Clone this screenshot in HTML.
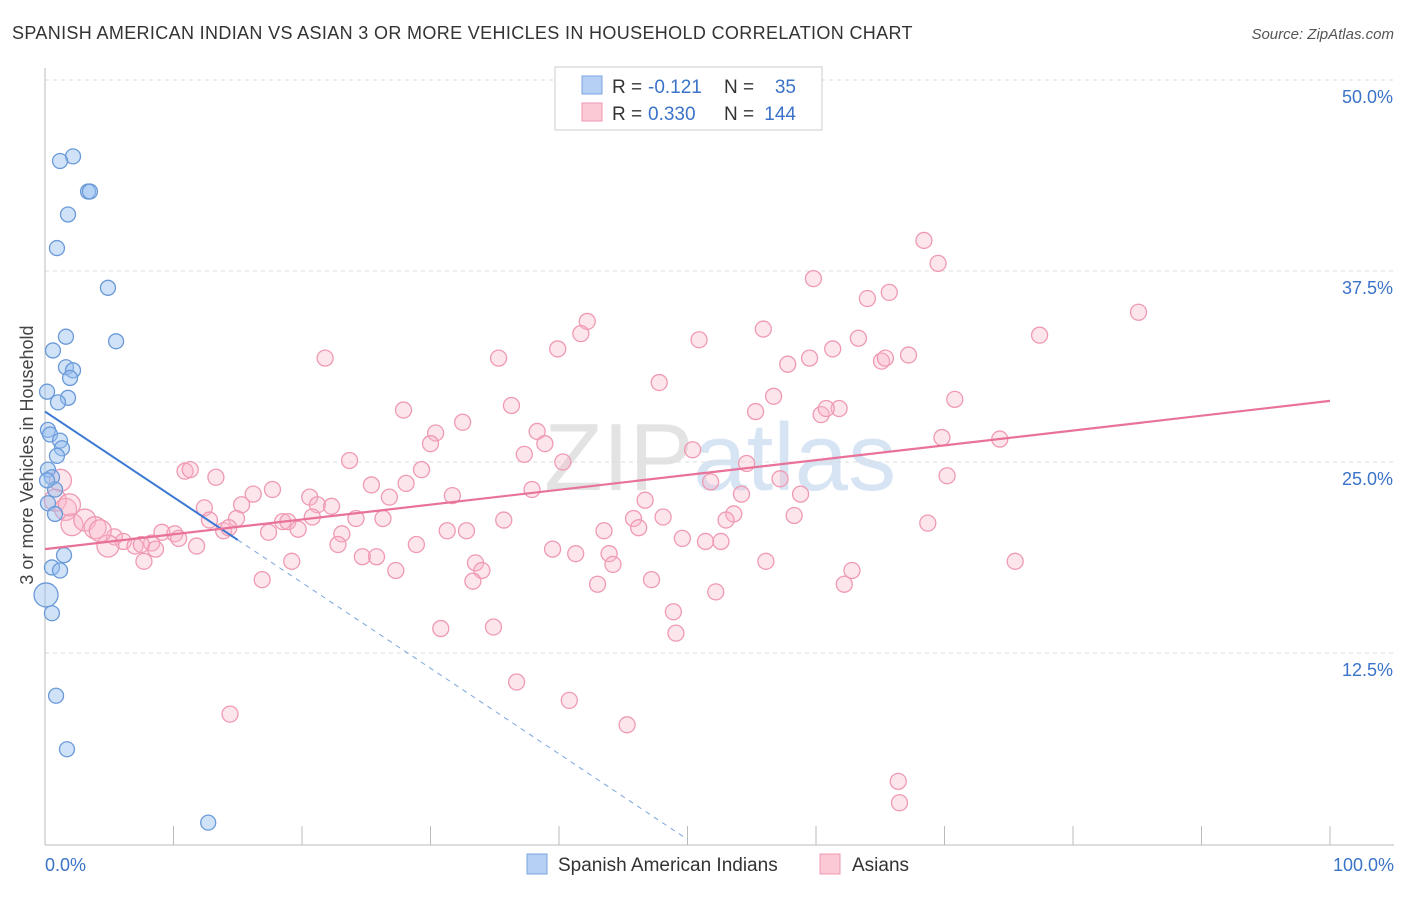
<!DOCTYPE html>
<html><head><meta charset="utf-8"><style>
body{margin:0;background:#fff;font-family:"Liberation Sans",sans-serif}
svg text{font-family:"Liberation Sans",sans-serif}
</style></head><body>
<svg id="chart" width="1406" height="892" viewBox="0 0 1406 892" xmlns="http://www.w3.org/2000/svg">
<text x="12" y="39" font-size="18" letter-spacing="0.35" fill="#333">SPANISH AMERICAN INDIAN VS ASIAN 3 OR MORE VEHICLES IN HOUSEHOLD CORRELATION CHART</text>
<text x="1394" y="39" font-size="15" fill="#555" text-anchor="end" font-style="italic">Source: ZipAtlas.com</text>
<text x="720" y="490" font-size="96" fill="#e6e6e6" text-anchor="middle" font-family="Liberation Serif"><tspan fill="#e3e3e3">ZIP</tspan><tspan fill="#d6e4f4" font-family="Liberation Sans">atlas</tspan></text>
<g id="grid"></g>
<g id="axes"></g>
<g id="marks"></g>
<text transform="translate(33,455) rotate(-90)" font-size="18" fill="#444" text-anchor="middle">3 or more Vehicles in Household</text>
<g>
<rect x="555" y="67" width="267" height="63" fill="#fff" stroke="#ccc"/>
<rect x="582" y="76" width="20" height="18" fill="#b5d0f3" stroke="#7aa4e0"/>
<rect x="582" y="103" width="20" height="18" fill="#fbc8d6" stroke="#ef9ab2"/>
<text x="612" y="93" font-size="19" fill="#333">R =</text>
<text x="648" y="93" font-size="19" fill="#3b73c8">-0.121</text>
<text x="724" y="93" font-size="19" fill="#333">N =</text>
<text x="796" y="93" font-size="19" fill="#3b73c8" text-anchor="end">35</text>
<text x="612" y="120" font-size="19" fill="#333">R =</text>
<text x="648" y="120" font-size="19" fill="#3b73c8">0.330</text>
<text x="724" y="120" font-size="19" fill="#333">N =</text>
<text x="796" y="120" font-size="19" fill="#3b73c8" text-anchor="end">144</text>
</g>
<g>
<rect x="527" y="854" width="20" height="20" fill="#b5d0f3" stroke="#7aa4e0"/>
<text x="558" y="871" font-size="19" fill="#333">Spanish American Indians</text>
<rect x="820" y="854" width="20" height="20" fill="#fbc8d6" stroke="#ef9ab2"/>
<text x="852" y="871" font-size="19" fill="#333">Asians</text>
</g>
</svg>
<script>
const yTicks=[12.5,25,37.5,50];
const yTickLabels=["12.5%","25.0%","37.5%","50.0%"];
const xEndLabels=["0.0%","100.0%"];
const blueX=[2.18,1.17,3.35,3.5,1.79,0.93,4.9,1.63,5.53,0.62,1.63,2.18,1.95,0.16,1.79,1.01,0.23,0.39,1.17,1.32,0.93,0.23,0.54,0.78,0.23,0.78,1.48,0.54,1.17,0.08,0.54,0.86,1.71,12.7,0.16];
const blueY=[45.0,44.7,42.7,42.7,41.2,39.0,36.4,33.2,32.9,32.3,31.2,31.0,30.5,29.6,29.2,28.9,27.1,26.8,26.4,25.9,25.4,24.5,24.0,23.2,22.3,21.6,18.9,18.1,17.9,16.3,15.1,9.7,6.2,1.4,23.8];
const pinkX=[68.4,69.5,59.8,64.0,65.7,85.1,42.2,41.7,55.9,77.4,50.9,63.3,39.9,61.3,21.8,35.3,67.2,65.1,65.4,57.8,59.5,47.8,56.7,70.8,36.3,27.9,55.3,60.4,61.8,60.8,32.5,30.4,30.0,38.3,38.9,69.8,74.3,50.4,37.3,40.3,23.7,54.6,29.3,25.4,28.1,57.2,70.2,10.9,11.3,13.3,31.7,37.9,51.8,54.2,58.8,17.7,20.6,26.8,15.3,16.2,12.4,21.2,22.3,46.7,53.6,53.0,58.3,48.1,45.8,24.2,26.3,68.7,12.8,14.9,18.5,20.8,18.9,35.7,43.5,46.2,31.3,32.8,13.9,14.3,23.1,17.4,19.7,49.6,51.4,52.6,5.4,6.1,9.1,10.1,10.4,7.0,4.9,8.3,11.8,8.6,7.5,28.9,39.5,41.3,43.9,24.7,25.8,44.2,33.5,22.8,34.0,19.2,27.3,56.1,62.8,75.5,7.7,16.9,33.3,43.0,47.2,62.2,52.2,48.9,30.8,34.9,49.1,36.7,40.8,45.3,14.4,66.4,66.5,1.2,0.8,1.6,2.1,3.1,3.9,4.3,1.9];
const pinkY=[39.5,38.0,37.0,35.7,36.1,34.8,34.2,33.4,33.7,33.3,33.0,33.1,32.4,32.4,31.8,31.8,32.0,31.6,31.8,31.4,31.8,30.2,29.3,29.1,28.7,28.4,28.3,28.1,28.5,28.5,27.6,26.9,26.2,27.0,26.2,26.6,26.5,25.8,25.5,25.0,25.1,24.9,24.5,23.5,23.6,23.9,24.1,24.4,24.5,24.0,22.8,23.2,23.7,22.9,22.9,23.2,22.7,22.7,22.2,22.9,22.0,22.2,22.1,22.5,21.6,21.2,21.5,21.4,21.3,21.3,21.3,21.0,21.2,21.3,21.1,21.4,21.1,21.2,20.5,20.7,20.5,20.5,20.5,20.7,20.3,20.4,20.6,20.0,19.8,19.8,20.1,19.8,20.4,20.3,20.0,19.5,19.5,19.7,19.5,19.3,19.6,19.6,19.3,19.0,19.0,18.8,18.8,18.3,18.4,19.6,17.9,18.5,17.9,18.5,17.9,18.5,18.5,17.3,17.2,17.0,17.3,17.0,16.5,15.2,14.1,14.2,13.8,10.6,9.4,7.8,8.5,4.1,2.7,23.8,22.5,21.9,20.9,21.2,20.7,20.5,22.2];
const blueTrend=[28.3,-0.56];   // intercept, slope
const pinkTrend=[19.3,0.097];

const NS="http://www.w3.org/2000/svg";
const X0=45,X1=1330,Y0=844,Y50=80;
const sx=v=>X0+(X1-X0)*v/100;
const sy=v=>Y0-(Y0-Y50)*v/50;
function mk(tag,attrs,parent){const e=document.createElementNS(NS,tag);for(const k in attrs)e.setAttribute(k,attrs[k]);parent.appendChild(e);return e;}
const grid=document.getElementById('grid'),axes=document.getElementById('axes'),marks=document.getElementById('marks');
yTicks.forEach((t,i)=>{
  const l=mk('line',{x1:X0,x2:1394,y1:sy(t),y2:sy(t),stroke:'#ddd','stroke-dasharray':'4,4'},grid);
  
  
  const tx=mk('text',{x:1393,y:sy(t)+23,'font-size':18,fill:'#3b73c8','text-anchor':'end'},axes);
  tx.textContent=yTickLabels[i];
  
  
});
const ax=mk('line',{x1:X0,x2:1394,y1:Y0+1,y2:Y0+1,stroke:'#bbb'},axes);


const ay=mk('line',{x1:X0,x2:X0,y1:68,y2:Y0+1,stroke:'#bbb'},axes);


for(let i=1;i<=10;i++){
  const tk=mk('line',{x1:sx(i*10),x2:sx(i*10),y1:Y0-18,y2:Y0+1,stroke:'#bbb'},axes);
  
  
}
[[0,'start',X0],[1,'end',1394]].forEach(([i,a,x])=>{
  const t=mk('text',{x:x,y:871,'font-size':18,fill:'#3b73c8','text-anchor':a},axes);
  t.textContent=xEndLabels[i];
  
  
});
pinkX.forEach((x,i)=>{
  const c=mk('circle',{cx:sx(x),cy:sy(pinkY[i]),r:x<5?11:8,fill:'rgba(248,180,200,0.35)',stroke:'#ef9ab2','stroke-width':1.3},marks);
  
  
});
blueX.forEach((x,i)=>{
  const c=mk('circle',{cx:sx(x),cy:sy(blueY[i]),r:x<0.1?12:7.5,fill:'rgba(150,190,240,0.45)',stroke:'#6a9ad8','stroke-width':1.3},marks);
  
  
});
const bs=mk('line',{x1:sx(0),y1:sy(blueTrend[0]),x2:sx(15),y2:sy(blueTrend[0]+blueTrend[1]*15),stroke:'#3a78d4','stroke-width':2},marks);


const bd=mk('line',{x1:sx(15),y1:sy(blueTrend[0]+blueTrend[1]*15),x2:sx(50),y2:sy(blueTrend[0]+blueTrend[1]*50),stroke:'#7aa4e0','stroke-width':1,'stroke-dasharray':'5,5'},marks);


const pl=mk('line',{x1:sx(0),y1:sy(pinkTrend[0]),x2:sx(100),y2:sy(pinkTrend[0]+pinkTrend[1]*100),stroke:'#e8729a','stroke-width':2.2},marks);


</script>
</body></html>
